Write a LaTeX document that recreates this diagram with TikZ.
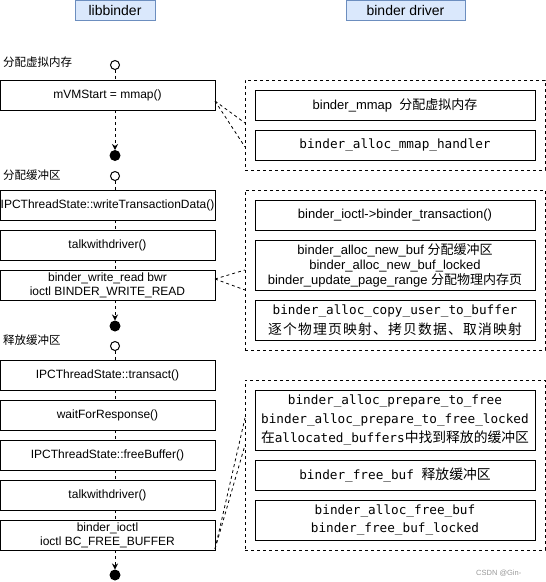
\documentclass[tikz,border=0pt]{standalone}
\usepackage{fontspec}
\setmainfont{Liberation Sans}
\newfontfamily\cjk{Noto Sans CJK SC}
\newfontfamily\mono{DejaVu Sans Mono}
\usetikzlibrary{arrows.meta}
\definecolor{hdrfill}{HTML}{DAE8FC}
\definecolor{hdrline}{HTML}{6C8EBF}
\newcommand\zh[1]{{\cjk #1}}
\newcommand\zhm[1]{{\cjk\fontsize{13.8pt}{18pt}\selectfont #1}}
\newcommand\spc[1]{\spcI#1\relax}
\def\spcI#1{\ifx#1\relax\else\makebox[15pt]{\cjk\fontsize{13.8pt}{18pt}\selectfont #1}\expandafter\spcI\fi}
\tikzset{
  lbox/.style={draw, line width=1pt, minimum width=215pt, minimum height=30pt, inner sep=0pt, outer sep=0pt, align=center, font=\fontsize{12pt}{14.3pt}\selectfont},
  rbox/.style={draw, line width=1pt, minimum width=280pt, inner sep=0pt, outer sep=0pt, align=center},
  sansb/.style={font=\fontsize{13pt}{15pt}\selectfont},
  monof/.style={font=\mono\fontsize{12.7pt}{18.5pt}\selectfont},
  grp/.style={draw, line width=1pt, dash pattern=on 3pt off 3pt, minimum width=300pt, inner sep=0pt, outer sep=0pt},
  hdr/.style={draw=hdrline, fill=hdrfill, line width=1pt, minimum height=20pt, inner sep=0pt, font=\fontsize{14pt}{16pt}\selectfont},
  flow/.style={line width=1pt, dash pattern=on 3pt off 3pt},
  flowarr/.style={flow, -{Stealth[length=6pt,width=6pt,inset=2pt]}},
  startdot/.style={circle, draw, line width=1pt, fill=white, minimum size=9pt, inner sep=0pt, outer sep=0pt},
  stopdot/.style={circle, fill=black, minimum size=11pt, inner sep=0pt, outer sep=0pt},
  lab/.style={anchor=west, inner sep=0pt, font=\cjk\fontsize{11.5pt}{13pt}\selectfont},
  link/.style={line width=0.8pt, dash pattern=on 3pt off 3pt},
}
\begin{document}
\begin{tikzpicture}[x=1pt,y=-1pt]
\useasboundingbox (0,0) rectangle (546,582);
% headers
\node[hdr, minimum width=80pt] (h1) at (115,10.5) {libbinder};
\node[hdr, minimum width=119pt] (h2) at (405.5,10.5) {binder driver};

% ---------- section 1
\node[lab] (l1) at (3,62) {分配虚拟内存};
\node[startdot] (s1) at (115,65) {};
\node[lbox] (b1) at (107.5,95) {mVMStart = mmap()};
\node[stopdot] (e1) at (115,155.5) {};
\draw[flow] (s1.south) -- (s1.south |- b1.north);
\draw[flowarr] (b1.south -| e1.north) -- (e1.north);

\node[grp, minimum height=90pt] (g1) at (395,125) {};
\node[rbox, sansb, minimum height=30pt] (r1) at (395,105) {binder\_mmap\ \ \zh{分配虚拟内存}};
\node[rbox, monof, minimum height=30pt] (r2) at (395,145) {binder\_alloc\_mmap\_handler};
\draw[link] ([yshift=-6pt]b1.east) -- ([yshift=2pt]g1.west);
\draw[link] ([yshift=-6pt]b1.east) -- ([yshift=-22pt]g1.west);

% ---------- section 2
\node[lab] (l2) at (3,175) {分配缓冲区};
\node[startdot] (s2) at (115,176) {};
\node[lbox] (b2) at (107.5,205) {IPCThreadState::writeTransactionData()};
\node[lbox] (b3) at (107.5,245) {talkwithdriver()};
\node[lbox] (b4) at (107.5,285) {binder\_write\_read bwr\\ioctl BINDER\_WRITE\_READ};
\node[stopdot] (e2) at (115,326) {};
\draw[flow] (s2.south) -- (s2.south |- b2.north);
\draw[flow] (b2.south -| s2.south) -- (b3.north -| s2.south);
\draw[flow] (b3.south -| s2.south) -- (b4.north -| s2.south);
\draw[flowarr] (b4.south -| e2.north) -- (e2.north);

\node[grp, minimum height=160pt] (g2) at (395,270) {};
\node[rbox, sansb, minimum height=30pt] (r3) at (395,215) {binder\_ioctl->binder\_transaction()};
\node[rbox, sansb, minimum height=50pt] (r4) at (395,265) {binder\_alloc\_new\_buf\ \zh{分配缓冲区}\\binder\_alloc\_new\_buf\_locked\\binder\_update\_page\_range \zh{分配物理内存页}};
\node[rbox, monof, minimum height=40pt, font=\mono\fontsize{12.7pt}{20pt}\selectfont] (r5) at (395,320) {binder\_alloc\_copy\_user\_to\_buffer\\\spc{逐个物理页映射、拷贝数据、取消映射}};
\draw[link] ([yshift=6pt]b4.east) -- (g2.west);
\draw[link] ([yshift=6pt]b4.east) -- ([yshift=-20pt]g2.west);

% ---------- section 3
\node[lab] (l3) at (3,340) {释放缓冲区};
\node[startdot] (s3) at (115,346) {};
\node[lbox] (b5) at (107.5,375) {IPCThreadState::transact()};
\node[lbox] (b6) at (107.5,415) {waitForResponse()};
\node[lbox] (b7) at (107.5,455) {IPCThreadState::freeBuffer()};
\node[lbox] (b8) at (107.5,495) {talkwithdriver()};
\node[lbox] (b9) at (107.5,535) {binder\_ioctl\\ioctl BC\_FREE\_BUFFER};
\node[stopdot] (e3) at (115,575) {};
\draw[flow] (s3.south) -- (s3.south |- b5.north);
\draw[flow] (b5.south -| s3.south) -- (b6.north -| s3.south);
\draw[flow] (b6.south -| s3.south) -- (b7.north -| s3.south);
\draw[flow] (b7.south -| s3.south) -- (b8.north -| s3.south);
\draw[flow] (b8.south -| s3.south) -- (b9.north -| s3.south);
\draw[flowarr] (b9.south -| e3.north) -- (e3.north);

\node[grp, minimum height=170pt] (g3) at (395,465) {};
\node[rbox, monof, minimum height=60pt, font=\mono\fontsize{12.7pt}{19pt}\selectfont] (r6) at (395,420) {binder\_alloc\_prepare\_to\_free\\binder\_alloc\_prepare\_to\_free\_locked\\\zhm{在}allocated\_buffers\zhm{中找到释放的缓冲区}};
\node[rbox, monof, minimum height=30pt] (r7) at (395,475) {binder\_free\_buf \zhm{释放缓冲区}};
\node[rbox, monof, minimum height=40pt, font=\mono\fontsize{12.7pt}{18pt}\selectfont] (r8) at (395,520) {binder\_alloc\_free\_buf\\binder\_free\_buf\_locked};
\draw[link] ([yshift=1pt]b9.south east) -- ([yshift=47pt]g3.west);
\draw[link] ([yshift=1pt]b9.south east) -- ([yshift=20pt]g3.west);

\node[anchor=west, inner sep=0pt, text=black!40, font=\fontsize{7.5pt}{9pt}\selectfont] (wm) at (476,573) {CSDN @Gin-};
\end{tikzpicture}
\end{document}
